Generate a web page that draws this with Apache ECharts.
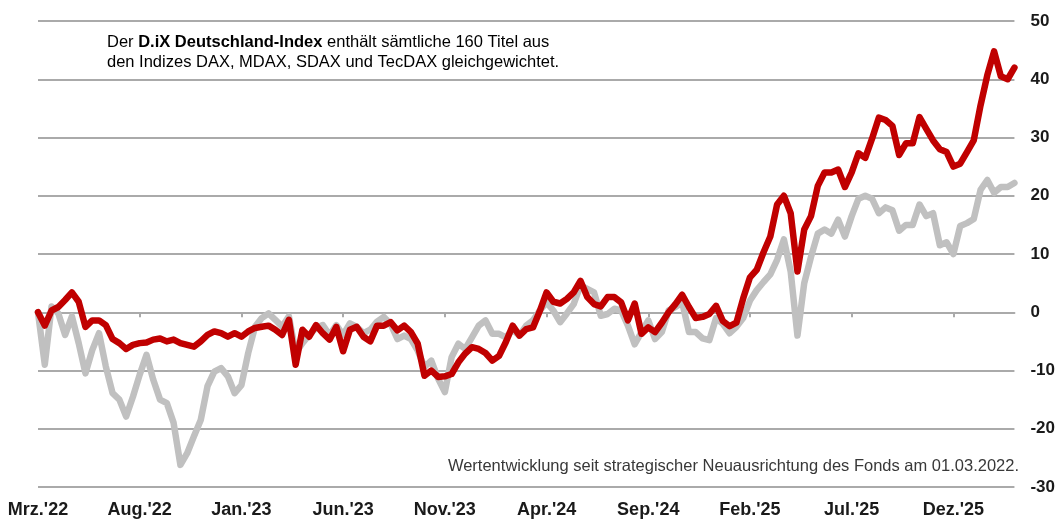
<!DOCTYPE html>
<html>
<head>
<meta charset="utf-8">
<script src="https://cdn.jsdelivr.net/npm/echarts@6/dist/echarts.min.js"></script>
<style>
  html, body { margin: 0; padding: 0; background: #fff; }
  #main { width: 1058px; height: 521px; }
</style>
</head>
<body>
<div id="main"></div>
<script>
// Wertentwicklung in %, ca. alle 10 Tage ab 01.03.2022
var tickLabels = ["Mrz.'22", "Aug.'22", "Jan.'23", "Jun.'23", "Nov.'23",
                  "Apr.'24", "Sep.'24", "Feb.'25", "Jul.'25", "Dez.'25"];

var fonds = [
   0.0, -2.3,  0.3,  0.9,  2.1,  3.4,  1.8, -2.5, -1.4, -1.4,
  -2.2, -4.6, -5.3, -6.3, -5.6, -5.3, -5.2, -4.7, -4.5, -5.0,
  -4.7, -5.3, -5.6, -5.9, -5.0, -3.9, -3.3, -3.6, -4.2, -3.6,
  -4.2, -3.3, -2.7, -2.5, -2.3, -3.0, -3.9, -1.3, -9.0, -3.0,
  -4.2, -2.2, -3.6, -4.7, -2.5, -6.7, -3.0, -2.5, -4.2, -5.0,
  -2.3, -2.3, -1.7, -3.1, -2.3, -3.4, -5.4, -10.9, -10.0, -11.1,
  -11.0, -10.6, -8.6, -7.1, -6.0, -6.3, -7.0, -8.3, -7.5, -5.1,
  -2.3, -4.0, -2.9, -2.6, 0.2, 3.4, 1.8, 1.5, 2.3, 3.4,
   5.4,  2.6,  1.4,  1.0,  2.6,  2.6,  1.7, -1.4,  1.5, -3.7,
  -2.6, -3.4, -1.8,  0.0,  1.4,  3.0,  0.9, -1.0, -0.8, -0.3,
   1.1, -1.5, -2.4, -1.8,  2.4,  6.0,  7.3, 10.3, 13.0, 18.5,
  20.0, 17.0,  7.0, 14.2, 16.5, 21.7, 24.0, 24.0, 24.5, 21.5,
  24.0, 27.3, 26.5, 29.8, 33.4, 33.0, 32.0, 27.0, 29.0, 29.0,
  33.5, 31.5, 29.5, 28.0, 27.5, 25.0, 25.5, 27.5, 29.5, 35.5,
  40.7, 44.8, 40.5, 40.0, 42.0
];

var index = [
   0.0, -9.0,  1.0, -0.2, -3.9, -0.7, -5.3, -10.5, -6.5, -3.6,
  -9.3, -13.9, -15.0, -17.9, -14.5, -10.7, -7.3, -11.6, -15.0, -15.6,
  -19.0, -26.2, -24.2, -21.3, -18.5, -12.7, -10.2, -9.6, -11.0, -13.9,
  -12.5, -7.0, -2.5, -1.0, -0.2, -1.3, -2.5, -0.7, -7.0, -5.3,
  -3.9, -2.7, -2.2, -3.9, -2.2, -3.9, -1.9, -2.5, -3.6, -3.0,
  -1.6, -0.8, -2.0, -4.6, -4.0, -4.6, -6.6, -9.4, -8.3, -11.4,
  -13.7, -7.7, -5.4, -6.3, -4.3, -2.3, -1.4, -3.7, -3.7, -4.3,
  -3.0, -4.0, -2.3, -1.4,  0.3,  1.7,  0.3, -1.7, -0.2,  1.4,
   4.6,  4.0,  3.4, -0.6, -0.3,  0.6,  0.3, -2.3, -5.5, -3.4,
  -1.4, -4.6, -3.4,  0.3,  0.9,  1.7, -3.4, -3.4, -4.5, -4.8,
  -1.0, -2.0, -3.6, -2.5, -1.0,  2.0,  3.8,  5.2,  6.5,  9.0,
  12.5,  7.0, -4.0,  5.0,  9.5, 13.5, 14.2, 13.5, 15.9, 13.0,
  16.5, 19.5, 20.0, 19.5, 17.0, 18.0, 17.5, 14.0, 15.0, 15.0,
  18.5, 16.5, 17.0, 11.5, 12.0, 10.0, 14.8, 15.3, 16.0, 21.0,
  22.7, 20.5, 21.5, 21.5, 22.2
];

// Kategorien: 1., 11. und 21. jedes Monats
var categories = [];
for (var i = 0; i < fonds.length; i++) {
    var m = 2 + Math.floor(i / 3);
    var y = 2022 + Math.floor(m / 12);
    categories.push(y + '-' + (m % 12 + 1) + '-' + (1 + (i % 3) * 10));
}

var myChart = echarts.init(document.getElementById('main'));

var font = '"Liberation Sans", Arial, sans-serif';
var gridGray = '#aaaaaa';
var textGray = '#383838';

var option = {
    animation: false,
    backgroundColor: '#ffffff',
    grid: { left: 38, right: 43, top: 21, bottom: 34, containLabel: false },
    xAxis: [{
        type: 'category',
        data: categories,
        boundaryGap: false,
        axisLine: { onZero: true, lineStyle: { color: gridGray, width: 2 } },
        axisTick: { show: true, interval: 14, length: 5, lineStyle: { color: gridGray, width: 2 } },
        axisLabel: { show: false },
        splitLine: { show: false }
    }, {
        type: 'category',
        data: categories,
        boundaryGap: false,
        position: 'bottom',
        axisLine: { show: false, onZero: false },
        axisTick: { show: false },
        axisLabel: {
            interval: 14,
            margin: 14,
            fontFamily: font,
            fontSize: 18,
            fontWeight: 'bold',
            color: '#1a1a1a',
            formatter: function (v, idx) { return tickLabels[Math.round(idx / 15)]; }
        },
        splitLine: { show: false }
    }],
    yAxis: {
        type: 'value',
        position: 'right',
        min: -30,
        max: 50,
        interval: 10,
        axisLine: { show: false },
        axisTick: { show: false },
        axisLabel: {
            margin: 16,
            fontFamily: font,
            fontSize: 17,
            fontWeight: 'bold',
            color: '#1a1a1a'
        },
        splitLine: { lineStyle: { color: gridGray, width: 2 } }
    },
    series: [{
        name: 'D.iX Deutschland-Index',
        type: 'line',
        data: index,
        showSymbol: false,
        lineStyle: { color: '#c0c0c0', width: 6.5, join: 'round', cap: 'round' },
        z: 2
    }, {
        name: 'Fonds',
        type: 'line',
        data: fonds,
        showSymbol: false,
        lineStyle: { color: '#c00000', width: 6.5, join: 'round', cap: 'round' },
        z: 3
    }],
    graphic: [{
        type: 'text',
        left: 107,
        top: 34,
        style: {
            text: '{n|Der }{b|D.iX Deutschland-Index}{n| enthält sämtliche 160 Titel aus}\n{n|den Indizes DAX, MDAX, SDAX und TecDAX gleichgewichtet.}',
            rich: {
                n: { fontFamily: font, fontSize: 16.5, color: textGray, lineHeight: 20 },
                b: { fontFamily: font, fontSize: 16.5, fontWeight: 'bold', color: textGray, lineHeight: 20 }
            }
        }
    }, {
        type: 'text',
        right: 39,
        top: 456,
        style: {
            text: 'Wertentwicklung seit strategischer Neuausrichtung des Fonds am 01.03.2022.',
            fontFamily: font,
            fontSize: 16.5,
            lineHeight: 20,
            fill: textGray
        }
    }]
};

myChart.setOption(option);
</script>
</body>
</html>
